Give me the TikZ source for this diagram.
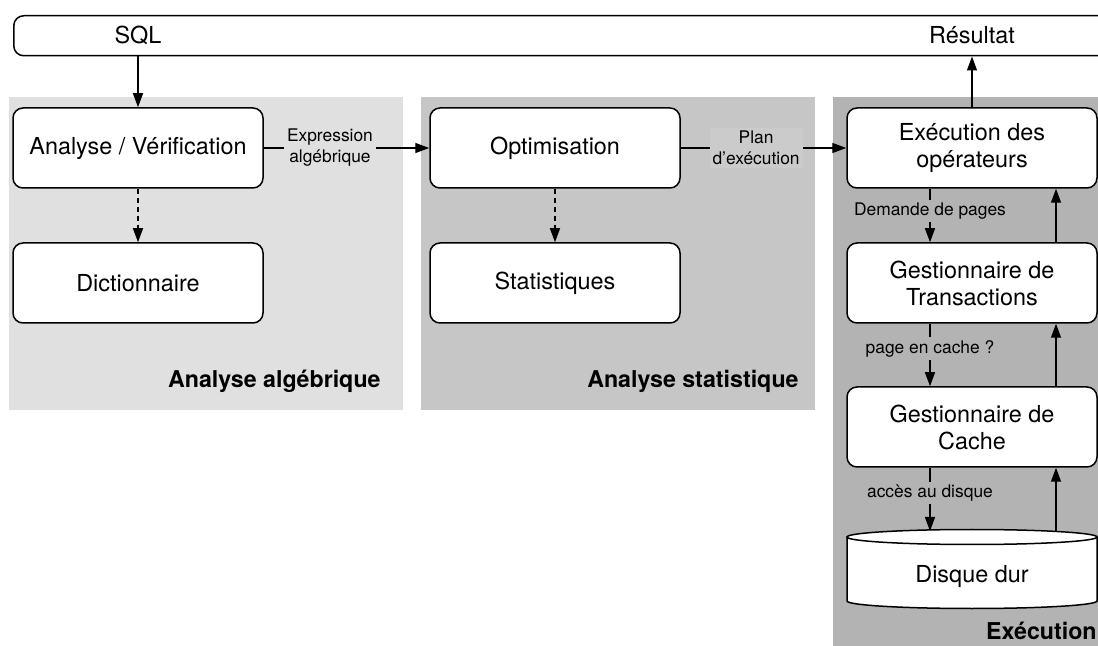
\documentclass[tikz,border=0pt]{standalone}
\usepackage{fontspec}
\setmainfont{TeX Gyre Heros}
\usetikzlibrary{arrows.meta}
\definecolor{panelA}{HTML}{E0E0E0}
\definecolor{panelB}{HTML}{C6C6C6}
\definecolor{panelC}{HTML}{B3B3B3}
\definecolor{planbg}{HTML}{CBCBCB}
\begin{document}
\begin{tikzpicture}[x=0.5pt, y=-0.5pt,
		main/.style={font=\fontsize{11.7}{13.5}\selectfont},
		box/.style={main, draw, fill=white, rounded corners=5pt, line width=0.75pt, minimum width=125pt, minimum height=40pt, align=center},
		small/.style={align=center, inner sep=1.5pt, font=\fontsize{8.7}{10.5}\selectfont},
		title/.style={anchor=base east, inner sep=0pt, font=\fontsize{11.6}{13}\selectfont\bfseries},
		arr/.style={-{Triangle[length=7pt,width=5pt]}, line width=0.7pt},
		darr/.style={arr, dash pattern=on 2.5pt off 2pt}]
		\clip (0,0) rectangle (1098,646);
		
		\fill[panelA] (9,97) rectangle (403,410);
		\fill[panelB] (421,97) rectangle (815,410);
		\fill[panelC] (833,97) rectangle (1110,660);
		\node[title] (tA) at (381,388) {Analyse algébrique};
		\node[title] (tB) at (799,388) {Analyse statistique};
		\node[title] (tC) at (1097,639) {Exécution};
		
		\node[draw, fill=white, rounded corners=5pt, line width=0.75pt, minimum width=555pt, minimum height=20pt, anchor=north west] (bar) at (13,15) {};
		\node[main] (sql) at (138,35) {SQL};
		\node[main] (res) at (972,35) {Résultat};
		
		\node[box] (ana) at (138,148) {Analyse / Vérification};
		\node[box] (dic) at (138,283) {Dictionnaire};
		\node[box] (opt) at (555,148) {Optimisation};
		\node[box] (sta) at (555,283) {Statistiques};
		\node[box] (ope) at (972,148) {Exécution des\\opérateurs};
		\node[box] (tra) at (972,283) {Gestionnaire de\\Transactions};
		\node[box] (cac) at (972,427) {Gestionnaire de\\Cache};
		
		\fill[white] (847,537) rectangle (1097,600);
		\draw[line width=0.75pt, fill=white] (847,537) -- (847,601) arc[start angle=180, end angle=360, x radius=62.5pt, y radius=3.75pt] -- (1097,537);
		\draw[line width=0.75pt, fill=white] (972,537) ellipse[x radius=62.5pt, y radius=3.75pt];
		\node[main] (dsk) at (972,577) {Disque dur};
		\coordinate (dtop) at (972,531);
		\coordinate (dl) at (930,0);
		\coordinate (ur) at (1056,0);
		
		\draw[arr] (sql |- bar.south) -- (ana);
		\draw[arr] (ope) -- (res |- bar.south);
		\draw[darr] (ana) -- (dic);
		\draw[darr] (opt) -- (sta);
		\draw[arr] (ana) -- node[small, fill=panelA, pos=0.4] {Expression\\algébrique} (opt);
		\draw[arr] (opt) -- node[small, fill=planbg, pos=0.455] {Plan\\d’exécution} (ope);
		
		\draw[arr] (ope.south -| dl) -- node[small, fill=panelC, pos=0.42] {Demande de pages} (tra.north -| dl);
		\draw[arr] (tra.south -| dl) -- node[small, fill=panelC, pos=0.4] {page en cache ?} (cac.north -| dl);
		\draw[arr] (cac.south -| dl) -- node[small, fill=panelC, pos=0.4] {accès au disque} (dl |- dtop);
		\draw[arr] (ur |- dtop) -- (cac.south -| ur);
		\draw[arr] (cac.north -| ur) -- (tra.south -| ur);
		\draw[arr] (tra.north -| ur) -- (ope.south -| ur);
	\end{tikzpicture}
\end{document}
